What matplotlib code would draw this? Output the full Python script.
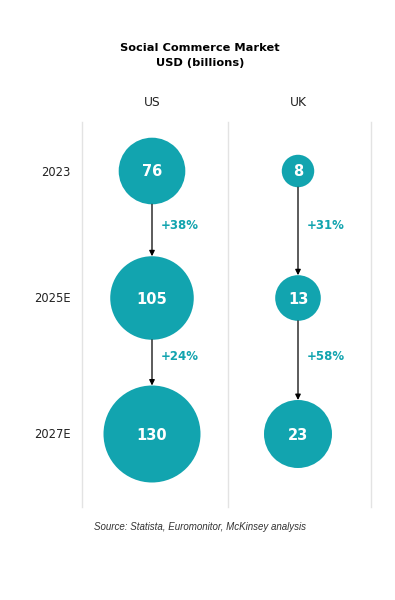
import matplotlib.pyplot as plt
from matplotlib.patches import Circle

# chart data
countries = ['US', 'UK']
years = ['2023', '2025E', '2027E']
market = {
    'US': [76, 105, 130],
    'UK': [8, 13, 23],
}
growth = {
    'US': ['+38%', '+24%'],
    'UK': ['+31%', '+58%'],
}

TEAL = '#12a4af'
GRID = '#e3e3e3'
FONT = 'DejaVu Sans'

fig = plt.figure(figsize=(3.95, 6), dpi=100)
ax = fig.add_axes([0, 0, 1, 1])
ax.set_xlim(0, 395)
ax.set_ylim(600, 0)
ax.axis('off')

# layout (pixels)
col_x = [152, 298]
row_y = [171, 298, 434]
r_max = {'US': 48.5, 'UK': 34}   # radius of the largest bubble per column
expo = 0.7

ax.text(200, 48, 'Social Commerce Market', ha='center', va='center',
        fontsize=8.2, fontweight='bold', family=FONT)
ax.text(200, 63, 'USD (billions)', ha='center', va='center',
        fontsize=8.2, fontweight='bold', family=FONT)

# column separators
for x in [82, 228, 371]:
    ax.plot([x, x], [122, 507], color=GRID, lw=1, zorder=0)

for yr, y in zip(years, row_y):
    ax.text(71, y + 1, yr, ha='right', va='center', fontsize=8.3, family=FONT,
            color='#222222')

for c, x in zip(countries, col_x):
    ax.text(x, 103, c, ha='center', va='center', fontsize=8.8, family=FONT,
            color='#222222')
    vals = market[c]
    vmax = max(vals)
    radii = [r_max[c] * (v / vmax) ** expo for v in vals]
    for v, y, r in zip(vals, row_y, radii):
        ax.add_patch(Circle((x, y), r, color=TEAL, lw=0, zorder=2))
        ax.text(x, y + 1, str(v), ha='center', va='center', color='white',
                fontsize=10.5, fontweight='bold', family=FONT, zorder=3)
    for i, g in enumerate(growth[c]):
        y0 = row_y[i] + radii[i]
        y1 = row_y[i + 1] - radii[i + 1]
        ax.annotate('', xy=(x, y1), xytext=(x, y0),
                    arrowprops=dict(arrowstyle='-|>', color='black', lw=0.9,
                                    mutation_scale=8, shrinkA=0, shrinkB=0))
        ax.text(x + 9, (row_y[i] + row_y[i + 1]) / 2 - 9, g, ha='left',
                va='center', color=TEAL, fontsize=8.5, fontweight='bold',
                family=FONT)

ax.text(200, 527, 'Source: Statista, Euromonitor, McKinsey analysis',
        ha='center', va='center', fontsize=7, style='italic',
        color='#333333', family='Liberation Sans')

fig.savefig('out.png', dpi=100, facecolor='white')
